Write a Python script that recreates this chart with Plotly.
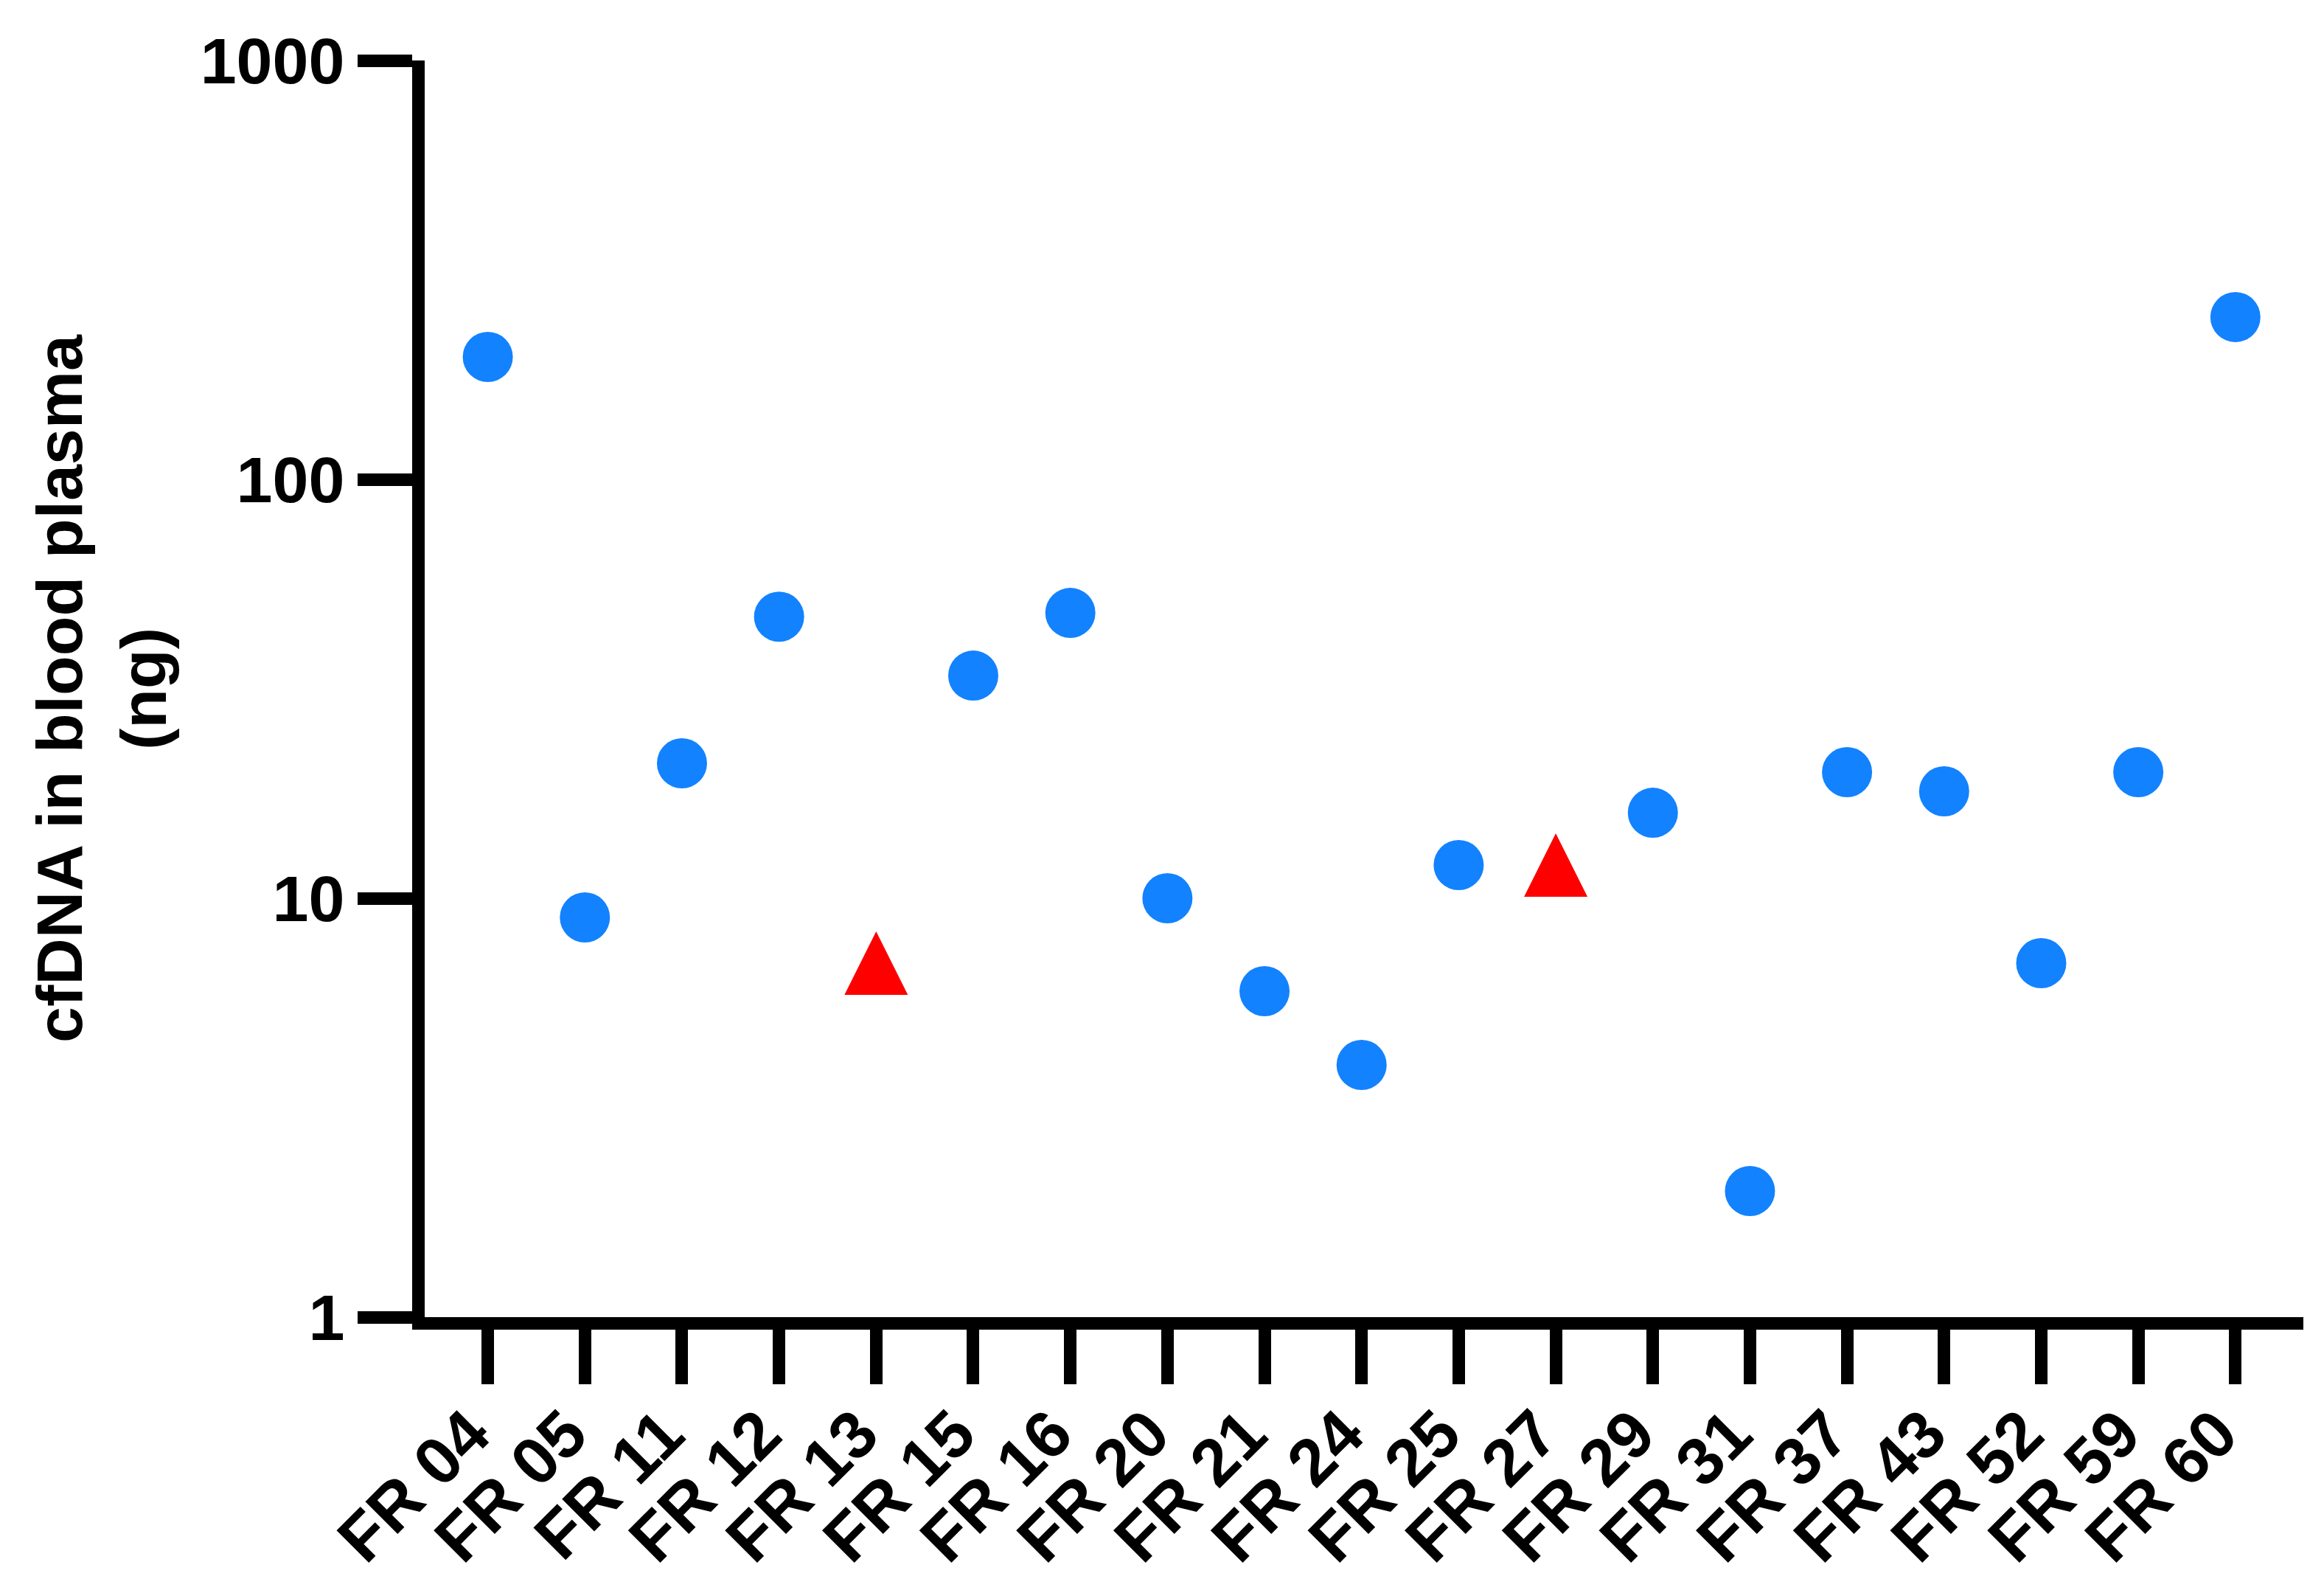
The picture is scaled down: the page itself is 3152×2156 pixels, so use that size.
import plotly.graph_objects as go

# sample labels and cfDNA amounts (ng)
samples = ["FR 04", "FR 05", "FR 11", "FR 12", "FR 13", "FR 15", "FR 16", "FR 20",
           "FR 21", "FR 24", "FR 25", "FR 27", "FR 29", "FR 31", "FR 37", "FR 43",
           "FR 52", "FR 59", "FR 60"]
cfdna = [196, 9, 21, 47, 7, 34, 48, 10, 6, 4, 12, 12, 16, 2, 20, 18, 7, 20, 244]
# samples drawn as red triangles
triangle_samples = ["FR 13", "FR 27"]

y_ticks = [1, 10, 100, 1000]
y_tick_text = ["1", "10", "100", "1000"]

FONT = "Liberation Sans, Arial, sans-serif"

circ_x = [s for s in samples if s not in triangle_samples]
circ_y = [v for s, v in zip(samples, cfdna) if s not in triangle_samples]
tri_x = [s for s in samples if s in triangle_samples]
tri_y = [v for s, v in zip(samples, cfdna) if s in triangle_samples]

fig = go.Figure()
fig.add_trace(go.Scatter(
    x=circ_x, y=circ_y, mode="markers",
    marker=dict(symbol="circle", size=68, color="#1282FF", line=dict(width=0)),
    showlegend=False,
))
# equilateral-ish triangle centred on the point (arrow-down flipped 180deg)
fig.add_trace(go.Scatter(
    x=tri_x, y=tri_y, mode="markers",
    marker=dict(symbol="arrow-down", size=86, angle=180, standoff=43,
                color="#FF0000", line=dict(width=0)),
    showlegend=False,
))

# top/bottom margins allow for the page's vertical offset
fig.update_layout(
    width=3152, height=2156,
    margin=dict(l=568, r=36, t=74, b=378),
    paper_bgcolor="white", plot_bgcolor="white",
    font=dict(family=FONT, color="black", size=88),
)
fig.update_xaxes(
    type="category", categoryorder="array", categoryarray=samples,
    range=[-0.65, 18.7], automargin=False,
    showline=True, linewidth=17, linecolor="black",
    ticks="outside", ticklen=74, tickwidth=17, tickcolor="black",
    tickangle=-45, tickfont=dict(family=FONT, size=90, weight="bold"),
    ticklabelshift=-24, ticklabelstandoff=-22,
    showgrid=False, zeroline=False,
)
fig.update_yaxes(
    type="log", range=[0, 3], automargin=False,
    tickvals=y_ticks, ticktext=y_tick_text,
    showline=True, linewidth=17, linecolor="black",
    ticks="outside", ticklen=74, tickwidth=17, tickcolor="black",
    tickfont=dict(family=FONT, size=88, weight="bold"),
    showgrid=False, zeroline=False,
    title=dict(text="cfDNA in blood plasma<br>(ng)", standoff=24,
               font=dict(family=FONT, size=88, weight="bold")),
)

fig.write_html("out.html")
